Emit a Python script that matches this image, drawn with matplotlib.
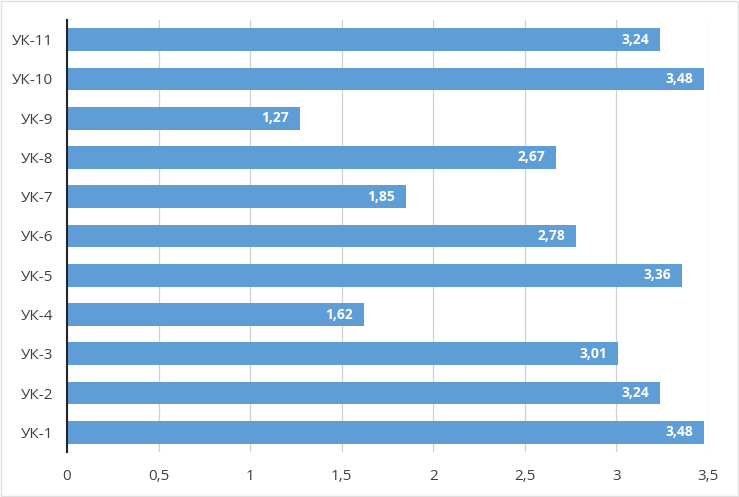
import matplotlib
matplotlib.use("Agg")
import matplotlib.pyplot as plt
from matplotlib.ticker import FuncFormatter

categories = ["УК-1", "УК-2", "УК-3", "УК-4", "УК-5", "УК-6", "УК-7", "УК-8", "УК-9", "УК-10", "УК-11"]
values = [3.48, 3.24, 3.01, 1.62, 3.36, 2.78, 1.85, 2.67, 1.27, 3.48, 3.24]
xticks = [0, 0.5, 1, 1.5, 2, 2.5, 3, 3.5]

plt.rcParams['font.family'] = ['Open Sans', 'DejaVu Sans']

fig = plt.figure(figsize=(7.39, 4.97), dpi=100)
ax = fig.add_axes([67/739, 45/497, 641/739, 432/497])

y = list(range(len(categories)))
bars = ax.barh(y, values, height=0.58, color="#5f9dd7", zorder=3)

def fmt(v):
    s = ("%g" % v).replace(".", ",")
    return s

for yi, v in zip(y, values):
    ax.text(v - 0.06, yi, ("%.2f" % v).replace(".", ","), ha="right", va="center",
            color="white", fontsize=10, fontweight="bold", zorder=4)

ax.set_xlim(0, 3.5)
ax.set_ylim(-0.5, len(categories) - 0.5)
ax.set_xticks(xticks)
ax.xaxis.set_major_formatter(FuncFormatter(lambda v, p: fmt(v)))
ax.set_yticks(y)
ax.set_yticklabels(categories)
ax.tick_params(axis="both", length=0, labelsize=11, labelcolor="#404040")
ax.tick_params(axis="x", pad=12)
ax.tick_params(axis="y", pad=10)
ax.grid(axis="x", color="#d0d0d0", linewidth=0.9, zorder=0)
for s in ["top", "right", "bottom"]:
    ax.spines[s].set_visible(False)
ax.spines["left"].set_color("#262626")
ax.spines["left"].set_linewidth(1.5)
ax.spines["left"].set_zorder(5)

fig.patches.append(plt.Rectangle((0.002, 0.002), 0.996, 0.996, transform=fig.transFigure,
                                 fill=False, edgecolor="#e0e0e0", linewidth=1))
fig.savefig("out.png", dpi=100)
